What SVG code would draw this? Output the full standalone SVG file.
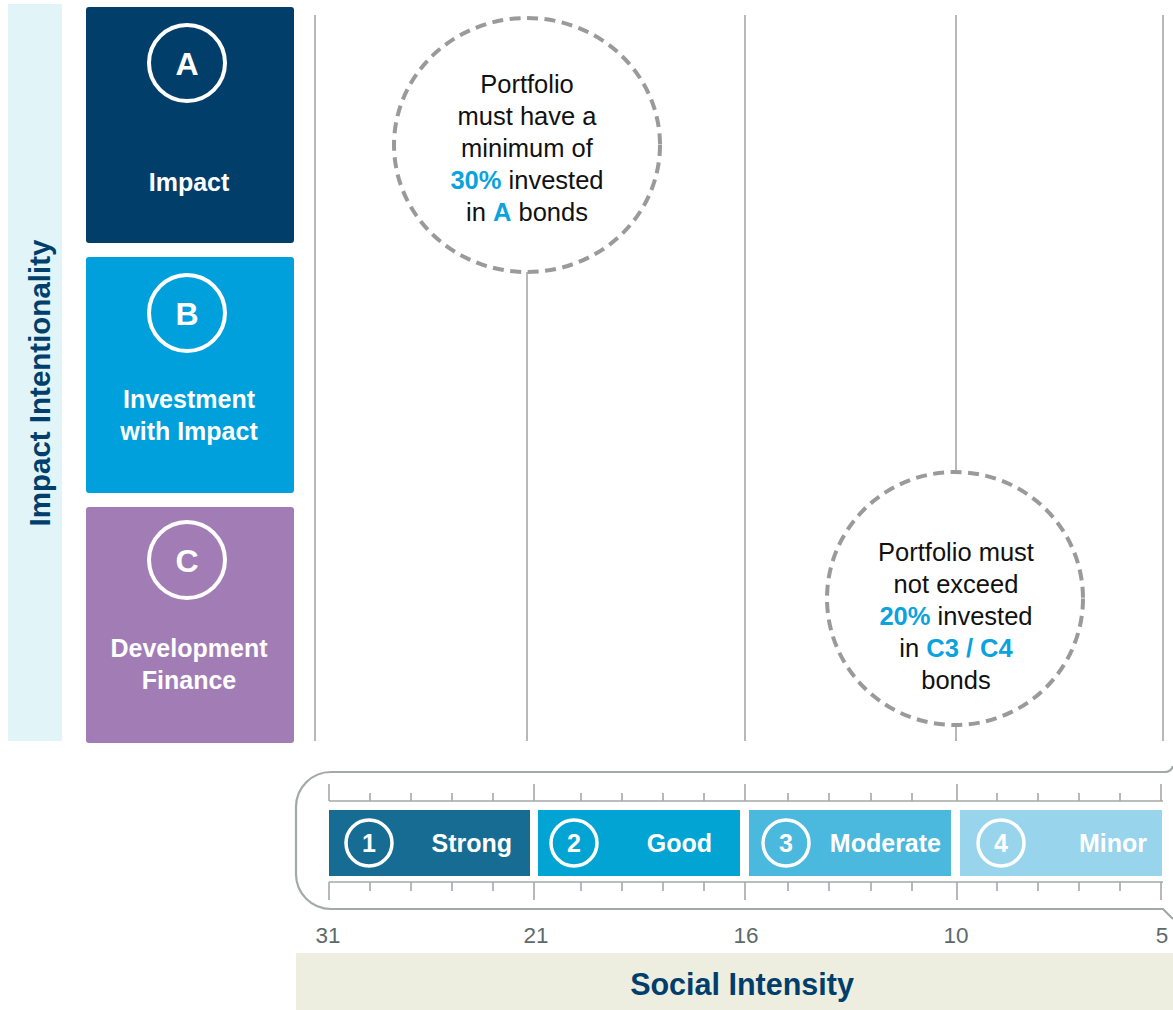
<svg xmlns="http://www.w3.org/2000/svg" width="1173" height="1010" viewBox="0 0 1173 1010">
<style>
.lbl{font-family:"Liberation Sans",Arial,sans-serif;font-weight:bold;fill:#fff;text-anchor:middle}
.ctext{font-family:"Liberation Sans",Arial,sans-serif;font-size:25.5px;fill:#111;text-anchor:middle}
.hl{font-weight:bold;fill:#0AA3DE}
.grid{stroke:#A6A6A6;stroke-width:1.6;fill:none}
.dash{fill:#fff;stroke:#9A9A9A;stroke-width:4;stroke-dasharray:11 6.5}
.tick{stroke:#A3A8A8;stroke-width:1.6;fill:none}
.num{font-family:"Liberation Sans",Arial,sans-serif;font-size:22.5px;fill:#5E6A6A;text-anchor:middle}
.ring{fill:none;stroke:#fff}
</style>

<rect x="8" y="4" width="54" height="737" fill="#E1F5F9"/>
<text transform="translate(50,383) rotate(-90)" font-family="Liberation Sans,Arial,sans-serif" font-weight="bold" font-size="29.5" fill="#003E6B" text-anchor="middle">Impact Intentionality</text>

<g id="connectors">
<line class="grid" x1="315" y1="15" x2="315" y2="741"/>
<line class="grid" x1="527" y1="272" x2="527" y2="741"/>
<line class="grid" x1="745" y1="15" x2="745" y2="741"/>
<line class="grid" x1="956" y1="15" x2="956" y2="472"/>
<line class="grid" x1="956" y1="725" x2="956" y2="741"/>
<line class="grid" x1="1163" y1="15" x2="1163" y2="741"/>
</g>

<g id="nodeA">
<rect x="86" y="7" width="208" height="236" rx="3" fill="#023E6A"/>
<circle class="ring" cx="187" cy="63" r="38" stroke-width="4"/>
<text class="lbl" x="187" y="75" font-size="32">A</text>
<text class="lbl" x="189" y="191" font-size="25">Impact</text>
</g>
<g id="nodeB">
<rect x="86" y="257" width="208" height="236" rx="3" fill="#00A0DC"/>
<circle class="ring" cx="187" cy="313" r="38" stroke-width="4"/>
<text class="lbl" x="187" y="325" font-size="32">B</text>
<text class="lbl" x="189" y="408" font-size="25">Investment</text>
<text class="lbl" x="189" y="440" font-size="25">with Impact</text>
</g>
<g id="nodeC">
<rect x="86" y="507" width="208" height="236" rx="3" fill="#A27DB5"/>
<circle class="ring" cx="187" cy="560" r="38" stroke-width="4"/>
<text class="lbl" x="187" y="572" font-size="32">C</text>
<text class="lbl" x="189" y="657" font-size="25">Development</text>
<text class="lbl" x="189" y="689" font-size="25">Finance</text>
</g>

<g id="note1">
<ellipse class="dash" cx="527" cy="145" rx="133" ry="127"/>
<text class="ctext" x="527" y="93">Portfolio</text>
<text class="ctext" x="527" y="125">must have a</text>
<text class="ctext" x="527" y="157">minimum of</text>
<text class="ctext" x="527" y="189"><tspan class="hl">30%</tspan> invested</text>
<text class="ctext" x="527" y="221">in <tspan class="hl">A</tspan> bonds</text>
</g>

<g id="note2">
<ellipse class="dash" cx="955" cy="598.5" rx="128" ry="126.5"/>
<text class="ctext" x="956" y="561">Portfolio must</text>
<text class="ctext" x="956" y="593">not exceed</text>
<text class="ctext" x="956" y="625"><tspan class="hl">20%</tspan> invested</text>
<text class="ctext" x="956" y="657">in <tspan class="hl">C3 / C4</tspan></text>
<text class="ctext" x="956" y="689">bonds</text>
</g>

<g id="scale">
<path d="M 1173 766 Q 1171 772 1164 772 L 331 772 A 35 35 0 0 0 296 807 L 296 874 A 35 35 0 0 0 331 909 L 1163 909 L 1173 919" fill="none" stroke="#A3A8A8" stroke-width="2.2"/>
<path class="tick" d="M329 801 H1163 M329 784 V801 M534 784 V801 M745 784 V801 M957 784 V801 M1161 784 V801 M370 793 V801 M411 793 V801 M452 793 V801 M493 793 V801 M581 793 V801 M622 793 V801 M663 793 V801 M704 793 V801 M788 793 V801 M829 793 V801 M871 793 V801 M912 793 V801 M997 793 V801 M1038 793 V801 M1079 793 V801 M1120 793 V801"/>
<path class="tick" d="M329 882 H1163 M329 882 V900 M534 882 V900 M745 882 V900 M957 882 V900 M1161 882 V900 M370 882 V891 M411 882 V891 M452 882 V891 M493 882 V891 M581 882 V891 M622 882 V891 M663 882 V891 M704 882 V891 M788 882 V891 M829 882 V891 M871 882 V891 M912 882 V891 M997 882 V891 M1038 882 V891 M1079 882 V891 M1120 882 V891"/>
</g>

<g id="band1">
<rect x="329" y="810" width="201" height="66" fill="#176C94"/>
<circle class="ring" cx="369" cy="843" r="23" stroke-width="3.5"/>
<text class="lbl" x="369" y="852" font-size="25">1</text>
<text class="lbl" x="512" y="852" font-size="25" style="text-anchor:end">Strong</text>
</g>
<g id="band2">
<rect x="538" y="810" width="202" height="66" fill="#02A4D4"/>
<circle class="ring" cx="574" cy="843" r="23" stroke-width="3.5"/>
<text class="lbl" x="574" y="852" font-size="25">2</text>
<text class="lbl" x="712" y="852" font-size="25" style="text-anchor:end">Good</text>
</g>
<g id="band3">
<rect x="749" y="810" width="202" height="66" fill="#4BB8DE"/>
<circle class="ring" cx="786" cy="843" r="23" stroke-width="3.5"/>
<text class="lbl" x="786" y="852" font-size="25">3</text>
<text class="lbl" x="941" y="852" font-size="25" style="text-anchor:end">Moderate</text>
</g>
<g id="band4">
<rect x="960" y="810" width="202" height="66" fill="#98D4EC"/>
<circle class="ring" cx="1001" cy="843" r="23" stroke-width="3.5"/>
<text class="lbl" x="1001" y="852" font-size="25">4</text>
<text class="lbl" x="1147" y="852" font-size="25" style="text-anchor:end">Minor</text>
</g>

<g id="axis-labels">
<text class="num" x="328" y="943">31</text>
<text class="num" x="536" y="943">21</text>
<text class="num" x="746" y="943">16</text>
<text class="num" x="956" y="943">10</text>
<text class="num" x="1162" y="943">5</text>
</g>

<g id="axis-title">
<rect x="296" y="953" width="877" height="57" fill="#EDEEE0"/>
<text x="742" y="995" font-family="Liberation Sans,Arial,sans-serif" font-weight="bold" font-size="30.5" fill="#003E6B" text-anchor="middle">Social Intensity</text>
</g>
</svg>
